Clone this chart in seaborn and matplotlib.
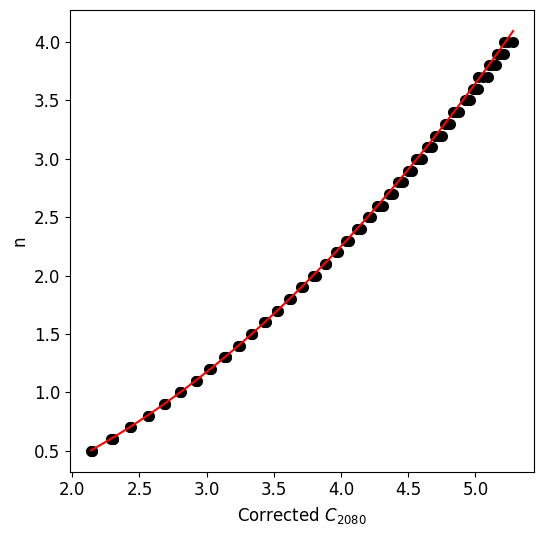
import numpy as np
import pandas as pd
import matplotlib
matplotlib.use("Agg")
import matplotlib.pyplot as plt
import seaborn as sns

# n levels and the left / middle / right positions inside each point cluster (Corrected C2080)
n_values = [0.5, 0.6, 0.7, 0.8, 0.9, 1.0, 1.1, 1.2, 1.3, 1.4, 1.5, 1.6, 1.7, 1.8,
            1.9, 2.0, 2.1, 2.2, 2.3, 2.4, 2.5, 2.6, 2.7, 2.8, 2.9, 3.0, 3.1, 3.2,
            3.3, 3.4, 3.5, 3.6, 3.7, 3.8, 3.9, 4.0]
c_left = [2.14, 2.29, 2.43, 2.56, 2.68, 2.80, 2.92, 3.02, 3.13, 3.23, 3.33, 3.43,
          3.52, 3.61, 3.70, 3.79, 3.88, 3.96, 4.04, 4.12, 4.20, 4.27, 4.36, 4.42,
          4.50, 4.56, 4.64, 4.70, 4.77, 4.83, 4.92, 4.98, 5.02, 5.10, 5.16, 5.21]
c_mid = [2.15, 2.30, 2.43, 2.56, 2.69, 2.80, 2.92, 3.025, 3.14, 3.24, 3.34, 3.435,
         3.525, 3.62, 3.71, 3.80, 3.885, 3.97, 4.05, 4.135, 4.21, 4.29, 4.375, 4.44,
         4.515, 4.58, 4.66, 4.725, 4.79, 4.855, 4.94, 5.00, 5.055, 5.125, 5.185, 5.245]
c_right = [2.15, 2.30, 2.44, 2.57, 2.69, 2.81, 2.93, 3.03, 3.14, 3.25, 3.34, 3.44,
           3.53, 3.63, 3.72, 3.81, 3.89, 3.98, 4.06, 4.15, 4.22, 4.31, 4.39, 4.46,
           4.53, 4.60, 4.68, 4.75, 4.81, 4.88, 4.96, 5.02, 5.09, 5.15, 5.21, 5.28]

df = pd.DataFrame({
    "C": c_left + c_mid + c_right,
    "n": n_values * 3,
})

# quadratic fit n(C) on the dense (left) edge of each cluster, drawn over the observed C range
coef = np.polyfit(c_left, n_values, 2)
c_fit = np.linspace(df["C"].min(), df["C"].max(), 200)
n_fit = np.polyval(coef, c_fit)

fig = plt.figure(figsize=(5.44, 5.36), dpi=100)
ax = fig.add_axes([0.1287, 0.12, 0.982 - 0.1287, 0.9813 - 0.12])

sns.scatterplot(data=df, x="C", y="n", color="black", s=64, linewidth=0, ax=ax)
sns.lineplot(x=c_fit, y=n_fit, color="red", sort=False, linewidth=1.5, ax=ax)

ax.set_xlabel(r"Corrected $C_{2080}$", fontsize=12)
ax.set_ylabel("n", fontsize=12)
ax.tick_params(labelsize=12)

fig.savefig("out.png", dpi=100)
